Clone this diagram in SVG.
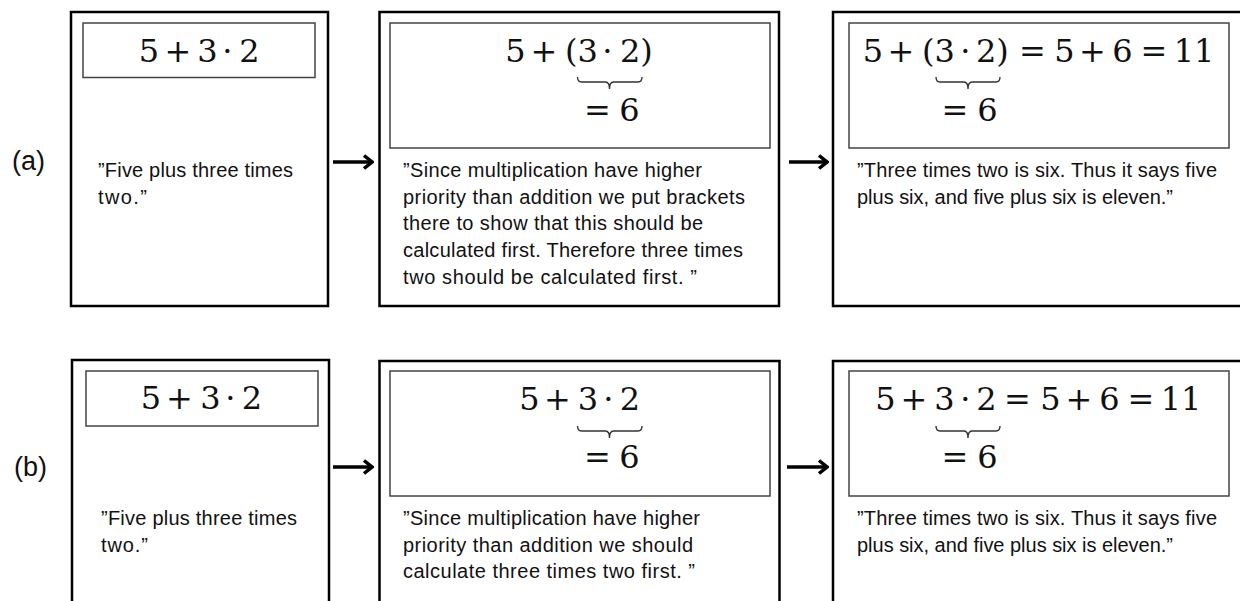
<svg xmlns="http://www.w3.org/2000/svg" width="1240" height="601" viewBox="0 0 1240 601">
<style>
.outer{fill:none;stroke:#000;stroke-width:2.5}
.inner{fill:none;stroke:#444;stroke-width:1.5}
.math{font-family:"DejaVu Serif","Liberation Serif",serif;font-size:32px;fill:#111}
.math tspan{text-anchor:middle}
.math tspan.s{text-anchor:start}
.txt{font-family:"Liberation Sans",Arial,sans-serif;font-size:20px;fill:#111}
.lbl{font-family:"Liberation Sans",Arial,sans-serif;font-size:27px;fill:#111}
.brace{fill:none;stroke:#333;stroke-width:1.4}
.arrow{stroke:#000;stroke-width:3.5;fill:none}
</style>
<defs>
<marker id="arr" viewBox="0 0 12 16" refX="10" refY="8" markerWidth="12" markerHeight="16" markerUnits="userSpaceOnUse" orient="auto">
<path d="M2,1.5 L10,8 L2,14.5" fill="none" stroke="#000" stroke-width="3.5"/>
</marker>
</defs>
<rect width="1240" height="601" fill="#fff"/>

<text class="lbl" x="12" y="170">(a)</text>
<text class="lbl" x="14" y="476">(b)</text>

<g id="a1">
<rect class="outer" x="71" y="12" width="257" height="294"/>
<rect class="inner" x="83" y="23" width="232" height="54.5"/>
<text class="math" y="62"><tspan x="149">5</tspan><tspan x="178">+</tspan><tspan x="207.5">3</tspan><tspan x="227.5">⋅</tspan><tspan x="249.5">2</tspan></text>
<text class="txt" x="98" y="177" textLength="195">”Five plus three times</text>
<text class="txt" x="98" y="203.7" textLength="49">two.”</text>
</g>

<g id="a2">
<rect class="outer" x="379.5" y="12" width="399.5" height="294"/>
<rect class="inner" x="390" y="23" width="380" height="125"/>
<text class="math" y="62"><tspan x="515.5">5</tspan><tspan x="544">+</tspan><tspan class="s" x="565">(3</tspan><tspan x="607.5">⋅</tspan><tspan class="s" x="620">2)</tspan></text>
<path class="brace" d="M577.5,77 Q577.5,82 581.5,82 L605.5,82 Q609.5,82 609.5,89 Q609.5,82 613.5,82 L638,82 Q642,82 642,77"/>
<text class="math" y="121"><tspan x="597.5">=</tspan><tspan x="629.5">6</tspan></text>
<text class="txt" x="403" y="177" textLength="299">”Since multiplication have higher</text>
<text class="txt" x="403" y="203.7" textLength="342">priority than addition we put brackets</text>
<text class="txt" x="403" y="230.4" textLength="300">there to show that this should be</text>
<text class="txt" x="403" y="257" textLength="340">calculated first. Therefore three times</text>
<text class="txt" x="403" y="283.7" textLength="294">two should be calculated first. ”</text>
</g>

<g id="a3">
<rect class="outer" x="833" y="12" width="420" height="294"/>
<rect class="inner" x="849" y="23" width="380" height="125"/>
<text class="math" y="62"><tspan x="873">5</tspan><tspan x="901">+</tspan><tspan class="s" x="922">(3</tspan><tspan x="965.5">⋅</tspan><tspan class="s" x="976">2)</tspan><tspan x="1032.5">=</tspan><tspan x="1064.5">5</tspan><tspan x="1092.5">+</tspan><tspan x="1122.5">6</tspan><tspan x="1154">=</tspan><tspan x="1194">11</tspan></text>
<path class="brace" d="M936,77 Q936,82 940,82 L964,82 Q968,82 968,89 Q968,82 972,82 L996,82 Q1000,82 1000,77"/>
<text class="math" y="121"><tspan x="955">=</tspan><tspan x="987.5">6</tspan></text>
<text class="txt" x="857" y="177" textLength="360">”Three times two is six. Thus it says five</text>
<text class="txt" x="857" y="203.7" textLength="316">plus six, and five plus six is eleven.”</text>
</g>

<g id="b1">
<rect class="outer" x="72" y="360" width="257" height="270"/>
<rect class="inner" x="86" y="371" width="232" height="55"/>
<text class="math" y="409"><tspan x="151">5</tspan><tspan x="179.5">+</tspan><tspan x="210.5">3</tspan><tspan x="230.5">⋅</tspan><tspan x="252">2</tspan></text>
<text class="txt" x="101" y="525" textLength="196">”Five plus three times</text>
<text class="txt" x="101" y="551.7" textLength="47">two.”</text>
</g>

<g id="b2">
<rect class="outer" x="379.5" y="361" width="400" height="270"/>
<rect class="inner" x="390" y="371" width="380" height="125"/>
<text class="math" y="410"><tspan x="529.5">5</tspan><tspan x="557.5">+</tspan><tspan x="588">3</tspan><tspan x="608.5">⋅</tspan><tspan x="630">2</tspan></text>
<path class="brace" d="M577.5,426 Q577.5,431 581.5,431 L605.5,431 Q609.5,431 609.5,438 Q609.5,431 613.5,431 L638,431 Q642,431 642,426"/>
<text class="math" y="468"><tspan x="597.5">=</tspan><tspan x="629.5">6</tspan></text>
<text class="txt" x="403" y="525" textLength="297">”Since multiplication have higher</text>
<text class="txt" x="403" y="551.7" textLength="290">priority than addition we should</text>
<text class="txt" x="403" y="578.4" textLength="292">calculate three times two first. ”</text>
</g>

<g id="b3">
<rect class="outer" x="833" y="361" width="420" height="270"/>
<rect class="inner" x="849" y="371" width="380" height="125"/>
<text class="math" y="410"><tspan x="885.5">5</tspan><tspan x="914">+</tspan><tspan x="944.5">3</tspan><tspan x="965.5">⋅</tspan><tspan x="986.5">2</tspan><tspan x="1017.5">=</tspan><tspan x="1050.5">5</tspan><tspan x="1079">+</tspan><tspan x="1109.5">6</tspan><tspan x="1141">=</tspan><tspan x="1181">11</tspan></text>
<path class="brace" d="M936,426 Q936,431 940,431 L964,431 Q968,431 968,438 Q968,431 972,431 L996,431 Q1000,431 1000,426"/>
<text class="math" y="468"><tspan x="955">=</tspan><tspan x="987.5">6</tspan></text>
<text class="txt" x="857" y="525" textLength="360">”Three times two is six. Thus it says five</text>
<text class="txt" x="857" y="551.7" textLength="316">plus six, and five plus six is eleven.”</text>
</g>

<g id="connectors">
<line class="arrow" x1="333" y1="162" x2="372" y2="162" marker-end="url(#arr)"/>
<line class="arrow" x1="789" y1="162" x2="827" y2="162" marker-end="url(#arr)"/>
<line class="arrow" x1="333" y1="467" x2="372" y2="467" marker-end="url(#arr)"/>
<line class="arrow" x1="787" y1="467" x2="827" y2="467" marker-end="url(#arr)"/>
</g>
</svg>
